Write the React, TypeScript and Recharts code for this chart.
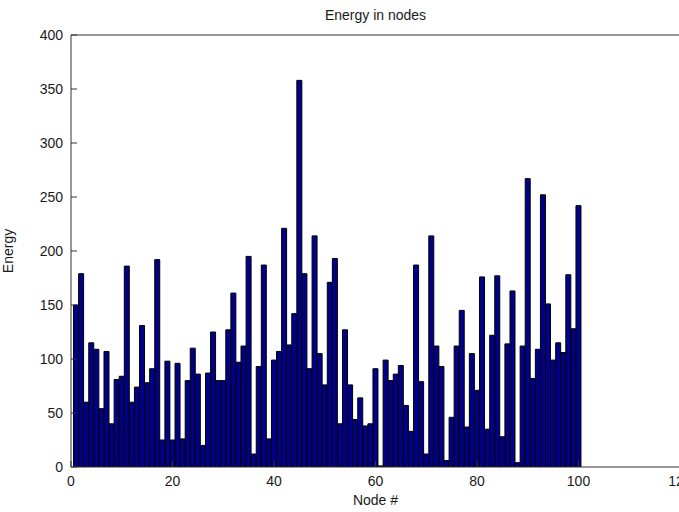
import { Bar, BarChart, XAxis, YAxis } from "recharts";

// energy per node (nodes 1..100)
const energy = [
  150, 179, 60, 115, 109, 54, 107, 40, 81, 84,
  186, 60, 74, 131, 78, 91, 192, 25, 98, 25,
  96, 26, 80, 110, 86, 20, 87, 125, 80, 80,
  127, 161, 97, 112, 195, 12, 93, 187, 26, 99,
  107, 221, 113, 142, 358, 179, 91, 214, 105, 76,
  171, 193, 40, 127, 76, 44, 64, 38, 40, 91,
  1, 99, 80, 86, 94, 57, 33, 187, 79, 12,
  214, 112, 93, 6, 46, 112, 145, 37, 105, 71,
  176, 35, 122, 177, 28, 114, 163, 4, 112, 267,
  82, 109, 252, 151, 99, 115, 106, 178, 128, 242,
];
const nodes = energy.map((_, i) => i + 1);

const xTicks = [0, 20, 40, 60, 80, 100, 120];
const yTicks = [0, 50, 100, 150, 200, 250, 300, 350, 400];

const data = nodes.map((n, i) => ({ node: n, energy: energy[i] }));

const FONT = "'Liberation Sans', Arial, sans-serif";
const AXIS = "#333333";
const tickStyle = { fontSize: 14, fill: "#1a1a1a", fontFamily: FONT };

export default function App() {
  return (
    <div
      style={{
        position: "absolute",
        left: 0,
        top: 0,
        width: 679,
        height: 512,
        overflow: "hidden",
        background: "#fff",
        fontFamily: FONT,
      }}
    >
      <div
        style={{
          position: "absolute",
          left: 71,
          top: 7,
          width: 609,
          textAlign: "center",
          fontSize: 14,
          lineHeight: "16px",
          color: "#1a1a1a",
        }}
      >
        Energy in nodes
      </div>
      <BarChart
        width={683}
        height={512}
        data={data}
        margin={{ top: 34, right: 0, bottom: 0, left: 0 }}
        barSize={5}
      >
        <XAxis
          dataKey="node"
          type="number"
          domain={[0, 120]}
          ticks={xTicks}
          interval={0}
          allowDataOverflow
          height={45}
          tickSize={-6}
          tickMargin={15}
          stroke={AXIS}
          tick={tickStyle}
          label={{
            value: "Node #",
            position: "insideBottom",
            offset: 7,
            style: { fontSize: 14, fill: "#1a1a1a", fontFamily: FONT },
          }}
        />
        <XAxis
          xAxisId="top"
          orientation="top"
          type="number"
          domain={[0, 120]}
          ticks={xTicks}
          interval={0}
          allowDataOverflow
          height={1}
          tickSize={-6}
          tick={false}
          stroke={AXIS}
        />
        <YAxis
          type="number"
          domain={[0, 400]}
          ticks={yTicks}
          interval={0}
          allowDataOverflow
          width={71}
          tickSize={-6}
          tickMargin={14}
          stroke={AXIS}
          tick={tickStyle}
          label={{
            value: "Energy",
            angle: -90,
            position: "insideLeft",
            offset: 8,
            style: { fontSize: 14, fill: "#1a1a1a", fontFamily: FONT, textAnchor: "middle" },
          }}
        />
        <YAxis
          yAxisId="right"
          orientation="right"
          type="number"
          domain={[0, 400]}
          ticks={yTicks}
          interval={0}
          allowDataOverflow
          width={3}
          tickSize={-6}
          tick={false}
          stroke={AXIS}
        />
        <Bar
          dataKey="energy"
          fill="#000088"
          stroke="#000000"
          strokeWidth={1}
          isAnimationActive={false}
        />
      </BarChart>
    </div>
  );
}
